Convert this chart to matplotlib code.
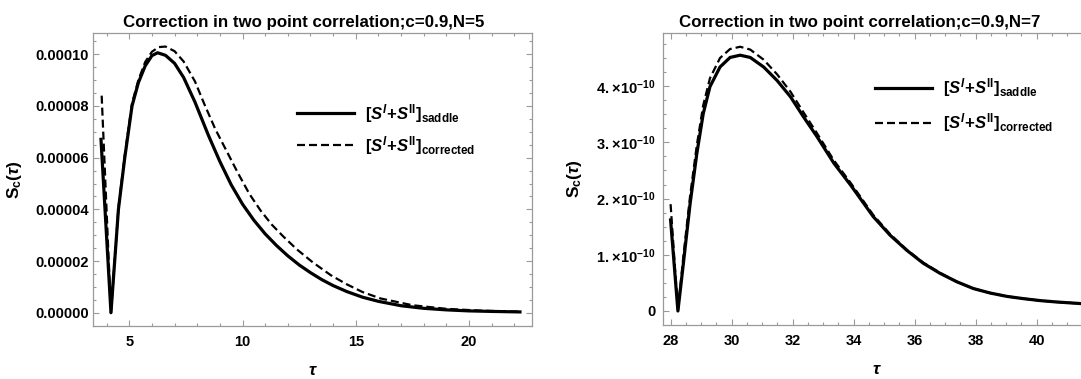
import matplotlib
matplotlib.use("Agg")
import matplotlib.pyplot as plt
from matplotlib.ticker import MultipleLocator, FixedLocator, FixedFormatter

# N=5 panel (S_c in units of 1e-5)
tau5_saddle = [3.75, 4.19, 4.52, 4.80, 5.12, 5.40, 5.70, 6.00, 6.25, 6.60, 7.00, 7.40,
               7.90, 8.50, 9.00, 9.50, 10.00, 10.50, 11.00, 11.50, 12.00, 12.50, 13.00,
               13.50, 14.00, 14.60, 15.30, 16.00, 17.00, 18.00, 19.00, 20.00, 21.00, 22.25]
s5_saddle = [6.71, 0.0, 4.00, 6.00, 8.00, 8.90, 9.55, 9.95, 10.06, 9.96, 9.65, 9.10,
             8.15, 6.85, 5.85, 4.95, 4.20, 3.58, 3.05, 2.60, 2.20, 1.85, 1.55,
             1.28, 1.05, 0.82, 0.60, 0.44, 0.27, 0.17, 0.11, 0.07, 0.05, 0.03]

tau5_corr = [3.78, 4.19, 4.52, 4.80, 5.12, 5.40, 5.70, 6.00, 6.30, 6.60, 7.00, 7.40,
             7.90, 8.30, 8.80, 9.30, 9.80, 10.30, 10.80, 11.30, 11.80, 12.40, 13.10,
             13.90, 14.60, 15.30, 16.10, 17.50, 19.00, 20.50, 22.25]
s5_corr = [8.40, 0.0, 4.05, 6.10, 8.10, 9.00, 9.70, 10.10, 10.28, 10.30, 10.12, 9.72,
           8.95, 8.10, 7.10, 6.25, 5.40, 4.60, 3.95, 3.40, 2.95, 2.45, 1.95,
           1.45, 1.10, 0.80, 0.55, 0.29, 0.15, 0.08, 0.04]

# N=7 panel (S_c in units of 1e-10)
tau7 = [28.00, 28.24, 28.42, 28.64, 28.86, 29.07, 29.29, 29.62, 29.95, 30.28, 30.61,
        31.05, 31.49, 31.93, 32.36, 32.80, 33.35, 33.90, 34.64, 35.19, 35.74, 36.28,
        36.83, 37.38, 37.92, 38.47, 39.02, 39.56, 40.11, 40.66, 41.50]
s7_saddle = [1.62, 0.0, 0.85, 1.91, 2.80, 3.51, 3.99, 4.34, 4.51, 4.55, 4.51,
             4.34, 4.10, 3.81, 3.45, 3.10, 2.63, 2.24, 1.68, 1.35, 1.08, 0.85,
             0.67, 0.52, 0.40, 0.32, 0.26, 0.22, 0.185, 0.16, 0.13]
s7_corr = [1.90, 0.0, 0.98, 2.05, 2.95, 3.66, 4.14, 4.50, 4.66, 4.70, 4.65,
           4.47, 4.21, 3.90, 3.53, 3.16, 2.68, 2.28, 1.71, 1.37, 1.09, 0.86,
           0.68, 0.52, 0.40, 0.32, 0.26, 0.22, 0.185, 0.16, 0.13]

yticks5 = [0, 2e-5, 4e-5, 6e-5, 8e-5, 1e-4]
ylabels5 = ["0.00000", "0.00002", "0.00004", "0.00006", "0.00008", "0.00010"]
yticks7 = [0, 1e-10, 2e-10, 3e-10, 4e-10]
ylabels7 = ["0", r"$1.\!\times\!10^{-10}$", r"$2.\!\times\!10^{-10}$",
            r"$3.\!\times\!10^{-10}$", r"$4.\!\times\!10^{-10}$"]

lab_saddle = r"$[S^{I}{+}S^{\mathrm{II}}]_{\mathrm{saddle}}$"
lab_corr = r"$[S^{I}{+}S^{\mathrm{II}}]_{\mathrm{corrected}}$"

plt.rcParams['font.family'] = ['Liberation Sans', 'DejaVu Sans']
plt.rcParams['font.weight'] = 'bold'
plt.rcParams['mathtext.fontset'] = 'custom'
plt.rcParams['mathtext.rm'] = 'Liberation Sans:bold'
plt.rcParams['mathtext.it'] = 'Liberation Sans:italic:bold'
plt.rcParams['mathtext.bf'] = 'Liberation Sans:bold'

GRAY = '#9a9a9a'
FS = 10.5


def style_axes(ax):
    for sp in ax.spines.values():
        sp.set_color(GRAY)
        sp.set_linewidth(0.9)
    ax.tick_params(which='both', direction='in', top=True, right=True,
                   color=GRAY, labelsize=FS, width=0.8)
    ax.tick_params(which='major', length=4)
    ax.tick_params(which='minor', length=2.2)


fig = plt.figure(figsize=(10.81, 3.79), dpi=100)

# left panel
ax1 = fig.add_axes([0.0863, 0.1398, 0.4056, 0.7739])
ax1.plot(tau5_saddle, [v * 1e-5 for v in s5_saddle], color='black', lw=2.3,
         label=lab_saddle)
ax1.plot(tau5_corr, [v * 1e-5 for v in s5_corr], color='black', lw=1.6,
         dashes=(3.6, 1.8), label=lab_corr)
ax1.set_xlim(3.41, 22.77)
ax1.set_ylim(-5.15e-6, 1.0836e-4)
ax1.xaxis.set_major_locator(MultipleLocator(5))
ax1.xaxis.set_minor_locator(MultipleLocator(1))
ax1.yaxis.set_major_locator(FixedLocator(yticks5))
ax1.yaxis.set_major_formatter(FixedFormatter(ylabels5))
ax1.yaxis.set_minor_locator(MultipleLocator(0.5e-5))
style_axes(ax1)
ax1.tick_params(axis='x', pad=6.5)
ax1.tick_params(axis='y', pad=3)
ax1.set_title("Correction in two point correlation;c=0.9,N=5", fontsize=12.2,
              fontweight='bold', x=0.4806, pad=4)
ax1.set_ylabel(r"$\mathrm{S_c(}\tau\mathrm{)}$", fontsize=12.5, va='center')
ax1.yaxis.set_label_coords(-0.1786, 0.5)
ax1.set_xlabel(r"$\tau$", fontsize=12.5)
ax1.xaxis.set_label_coords(0.501, -0.15)
ax1.xaxis.label.set_va('center')
ax1.legend(loc='upper left', bbox_to_anchor=(0.4647, 0.765), frameon=False,
           fontsize=12, handlelength=3.4, handletextpad=0.7, labelspacing=0.55,
           borderpad=0, borderaxespad=0)

# right panel (frame runs past the right edge of the image)
ax2 = fig.add_axes([0.6130, 0.1433, 0.3963, 0.7704])
ax2.plot(tau7, [v * 1e-10 for v in s7_saddle], color='black', lw=2.3,
         label=lab_saddle)
ax2.plot(tau7, [v * 1e-10 for v in s7_corr], color='black', lw=1.6,
         dashes=(3.6, 1.8), label=lab_corr)
ax2.set_xlim(27.74, 41.78)
ax2.set_ylim(-0.2436e-10, 4.95e-10)
ax2.xaxis.set_major_locator(MultipleLocator(2))
ax2.xaxis.set_minor_locator(MultipleLocator(0.5))
ax2.yaxis.set_major_locator(FixedLocator(yticks7))
ax2.yaxis.set_major_formatter(FixedFormatter(ylabels7))
ax2.yaxis.set_minor_locator(MultipleLocator(0.25e-10))
style_axes(ax2)
ax2.tick_params(axis='x', pad=6.5)
ax2.tick_params(axis='y', pad=5)
ax2.set_title("Correction in two point correlation;c=0.9,N=7", fontsize=12.2,
              fontweight='bold', x=0.4607, pad=4)
ax2.set_ylabel(r"$\mathrm{S_c(}\tau\mathrm{)}$", fontsize=12.5, va='center')
ax2.yaxis.set_label_coords(-0.2048, 0.5)
ax2.set_xlabel(r"$\tau$", fontsize=12.5)
ax2.xaxis.set_label_coords(0.5, -0.155)
ax2.xaxis.label.set_va('center')
ax2.legend(loc='upper left', bbox_to_anchor=(0.4957, 0.85), frameon=False,
           fontsize=12, handlelength=3.4, handletextpad=0.7, labelspacing=0.7,
           borderpad=0, borderaxespad=0)

fig.savefig("out.png", dpi=100)
